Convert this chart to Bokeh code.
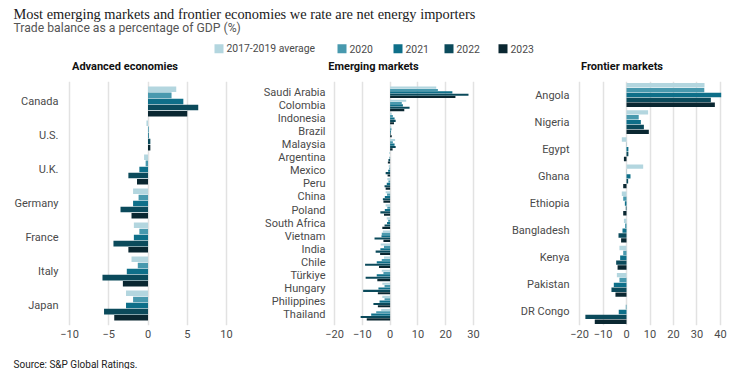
from bokeh.plotting import figure
from bokeh.layouts import column, row
from bokeh.models import FactorRange, Range1d, FixedTicker, ColumnDataSource
from bokeh.transform import dodge
from bokeh.embed import file_html
from bokeh.resources import INLINE
from bokeh.core.properties import value

# ---------------- texts ----------------
title_text = "Most emerging markets and frontier economies we rate are net energy importers"
subtitle_text = "Trade balance as a percentage of GDP (%)"
source_text = "Source: S&P Global Ratings."
series = ["2017-2019 average", "2020", "2021", "2022", "2023"]
series_keys = ["avg", "y2020", "y2021", "y2022", "y2023"]
colors = ["#B3D6DF", "#4899AE", "#0E6F89", "#0B4A5B", "#0A2731"]
panel_titles = ["Advanced economies", "Emerging markets", "Frontier markets"]

# ---------------- data ----------------
adv_countries = ["Canada", "U.S.", "U.K.", "Germany", "France", "Italy", "Japan"]
adv_avg = [3.6, -0.2, -0.5, -1.9, -1.8, -2.1, -2.8]
adv_2020 = [3.0, 0.1, -0.3, -1.2, -1.1, -1.3, -1.9]
adv_2021 = [4.5, 0.1, -1.1, -1.9, -1.8, -2.7, -2.8]
adv_2022 = [6.4, 0.3, -2.5, -3.5, -4.4, -5.8, -5.6]
adv_2023 = [5.0, 0.3, -1.4, -2.1, -2.5, -3.2, -4.3]
adv_ticks = [-10, -5, 0, 5, 10]

em_countries = ["Saudi Arabia", "Colombia", "Indonesia", "Brazil", "Malaysia", "Argentina",
                "Mexico", "Peru", "China", "Poland", "South Africa", "Vietnam", "India",
                "Chile", "Türkiye", "Hungary", "Philippines", "Thailand"]
em_avg = [16.6, 5.8, 0.6, 0.4, 1.8, -0.3, -0.5, -1.0, -1.6, -1.6, -1.2, -2.6, -3.4, -2.2, -3.0, -2.8, -2.8, -3.2]
em_2020 = [17.2, 4.2, 1.0, 0.5, 1.0, 0.0, -0.3, -0.6, -1.1, -1.0, -0.7, -3.0, -2.2, -3.0, -2.4, -2.0, -2.0, -5.0]
em_2021 = [22.4, 4.6, 1.6, 0.3, 1.6, -0.2, -0.7, -1.2, -1.9, -1.9, -1.1, -3.1, -3.5, -4.8, -4.8, -4.2, -3.8, -6.8]
em_2022 = [28.2, 7.0, 2.0, 0.2, 2.0, -0.6, -1.6, -2.0, -2.6, -3.5, -2.0, -5.6, -5.2, -9.0, -8.8, -9.7, -6.0, -10.6]
em_2023 = [23.5, 5.1, 1.4, 0.6, 0.9, -0.8, -0.9, -1.6, -2.4, -2.2, -2.8, -2.4, -3.6, -4.0, -4.6, -4.4, -4.4, -8.4]
em_ticks = [-20, -10, 0, 10, 20, 30]

fr_countries = ["Angola", "Nigeria", "Egypt", "Ghana", "Ethiopia", "Bangladesh", "Kenya", "Pakistan", "DR Congo"]
fr_avg = [33.2, 9.2, -2.0, 7.1, -2.0, -1.1, -3.0, -4.1, 0.0]
fr_2020 = [33.1, 5.2, 0.1, 0.1, -1.4, -0.6, -1.4, -3.0, -0.3]
fr_2021 = [40.3, 6.1, 0.8, 1.7, -0.7, -1.7, -2.7, -5.4, -3.3]
fr_2022 = [35.9, 7.4, 0.8, 0.7, -0.3, -3.4, -4.4, -6.4, -17.5]
fr_2023 = [37.6, 9.5, -1.1, -1.4, -1.4, -2.3, -3.8, -4.7, -13.5]
fr_ticks = [-20, -10, 0, 10, 20, 30, 40]

SANS = "Roboto"
SERIF = "Liberation Serif"

ROW_H = 269
TOP_B = 5
BOT_B = 20


def make_panel(countries, vals, ticks, x_start, x_end, width, b_left, b_right, pad):
    p = figure(title=None,
               y_range=FactorRange(factors=countries[::-1], range_padding=pad,
                                   range_padding_units="absolute"),
               x_range=Range1d(x_start, x_end),
               width=width, height=ROW_H,
               min_border_left=b_left, min_border_top=TOP_B,
               min_border_bottom=BOT_B, min_border_right=b_right,
               output_backend="svg", toolbar_location=None)
    data = {"country": countries}
    for k, v in zip(series_keys, vals):
        data[k] = v
    src = ColumnDataSource(data)
    group = 0.9
    bh = group / len(series_keys)
    for i, k in enumerate(series_keys):
        off = group / 2 - bh * (i + 0.5)
        p.hbar(y=dodge("country", off, range=p.y_range), left=0, right=k,
               height=bh * 0.9, fill_color=colors[i], line_color=None, source=src)
    p.xaxis.ticker = FixedTicker(ticks=ticks)
    p.xgrid.ticker = FixedTicker(ticks=ticks)
    p.xgrid.grid_line_color = "#e2e2e2"
    p.xgrid.grid_line_width = 1.5
    p.ygrid.grid_line_color = None
    p.outline_line_color = None
    for ax in (p.xaxis, p.yaxis):
        ax.axis_line_color = None
        ax.major_tick_line_color = None
        ax.minor_tick_line_color = None
        ax.major_tick_out = 0
        ax.major_tick_in = 0
        ax.minor_tick_out = 0
        ax.minor_tick_in = 0
        ax.major_label_text_font = SANS
        ax.major_label_text_font_size = "11px"
        ax.major_label_text_color = "#4a4a4a"
    p.xaxis.major_label_standoff = 4
    p.yaxis.major_label_standoff = 3
    return p


p1 = make_panel(adv_countries, [adv_avg, adv_2020, adv_2021, adv_2022, adv_2023], adv_ticks,
                -11.02, 11.02, 226, 53, 0, 0.088)
p2 = make_panel(em_countries, [em_avg, em_2020, em_2021, em_2022, em_2023], em_ticks,
                -22.16, 32.52, 246, 94, 0, 0.329)
p3 = make_panel(fr_countries, [fr_avg, fr_2020, fr_2021, fr_2022, fr_2023], fr_ticks,
                -22.98, 42.98, 264, 92, 17, 0.0)

# ---------------- header ----------------
HW, HH = 736, 73
h = figure(width=HW, height=HH, x_range=Range1d(0, HW), y_range=Range1d(HH, 0),
           x_axis_type=None, y_axis_type=None, min_border=0, title=None,
           output_backend="svg", toolbar_location=None)
h.grid.visible = False
h.outline_line_color = None
h.text(x=[5], y=[10.8], text=[title_text], text_font=value(SERIF),
       text_font_size="14.4px", text_color="#1a1a1a", text_baseline="alphabetic")
h.text(x=[5], y=[24.5], text=[subtitle_text], text_font=value(SANS),
       text_font_size="12.2px", text_color="#555555", text_baseline="alphabetic")
leg_x = [206, 329, 385, 436, 490]
leg_y = 45.3
h.rect(x=[lx + 4.5 for lx in leg_x], y=[leg_y] * 5, width=9, height=9,
       fill_color=colors, line_color=None)
h.text(x=[lx + 12 for lx in leg_x], y=[leg_y] * 5, text=series, text_font=value(SANS),
       text_font_size="10.4px", text_color="#4a4a4a", text_baseline="middle")
h.text(x=[116.5, 365, 613.5], y=[63] * 3, text=panel_titles, text_font=value(SANS),
       text_font_size="11px", text_font_style="bold", text_color="#111111",
       text_align="center", text_baseline="middle")

# ---------------- footer ----------------
FH = 24
f = figure(width=HW, height=FH, x_range=Range1d(0, HW), y_range=Range1d(FH, 0),
           x_axis_type=None, y_axis_type=None, min_border=0, title=None,
           output_backend="svg", toolbar_location=None)
f.grid.visible = False
f.outline_line_color = None
f.text(x=[5], y=[19], text=[source_text], text_font=value(SANS),
       text_font_size="10px", text_color="#222222", text_baseline="alphabetic")

layout = column(h, row(p1, p2, p3, spacing=0), f, spacing=0, margin=(3, 0, 0, 8))

with open("out.html", "w", encoding="utf-8") as fh:
    fh.write(file_html(layout, INLINE))
